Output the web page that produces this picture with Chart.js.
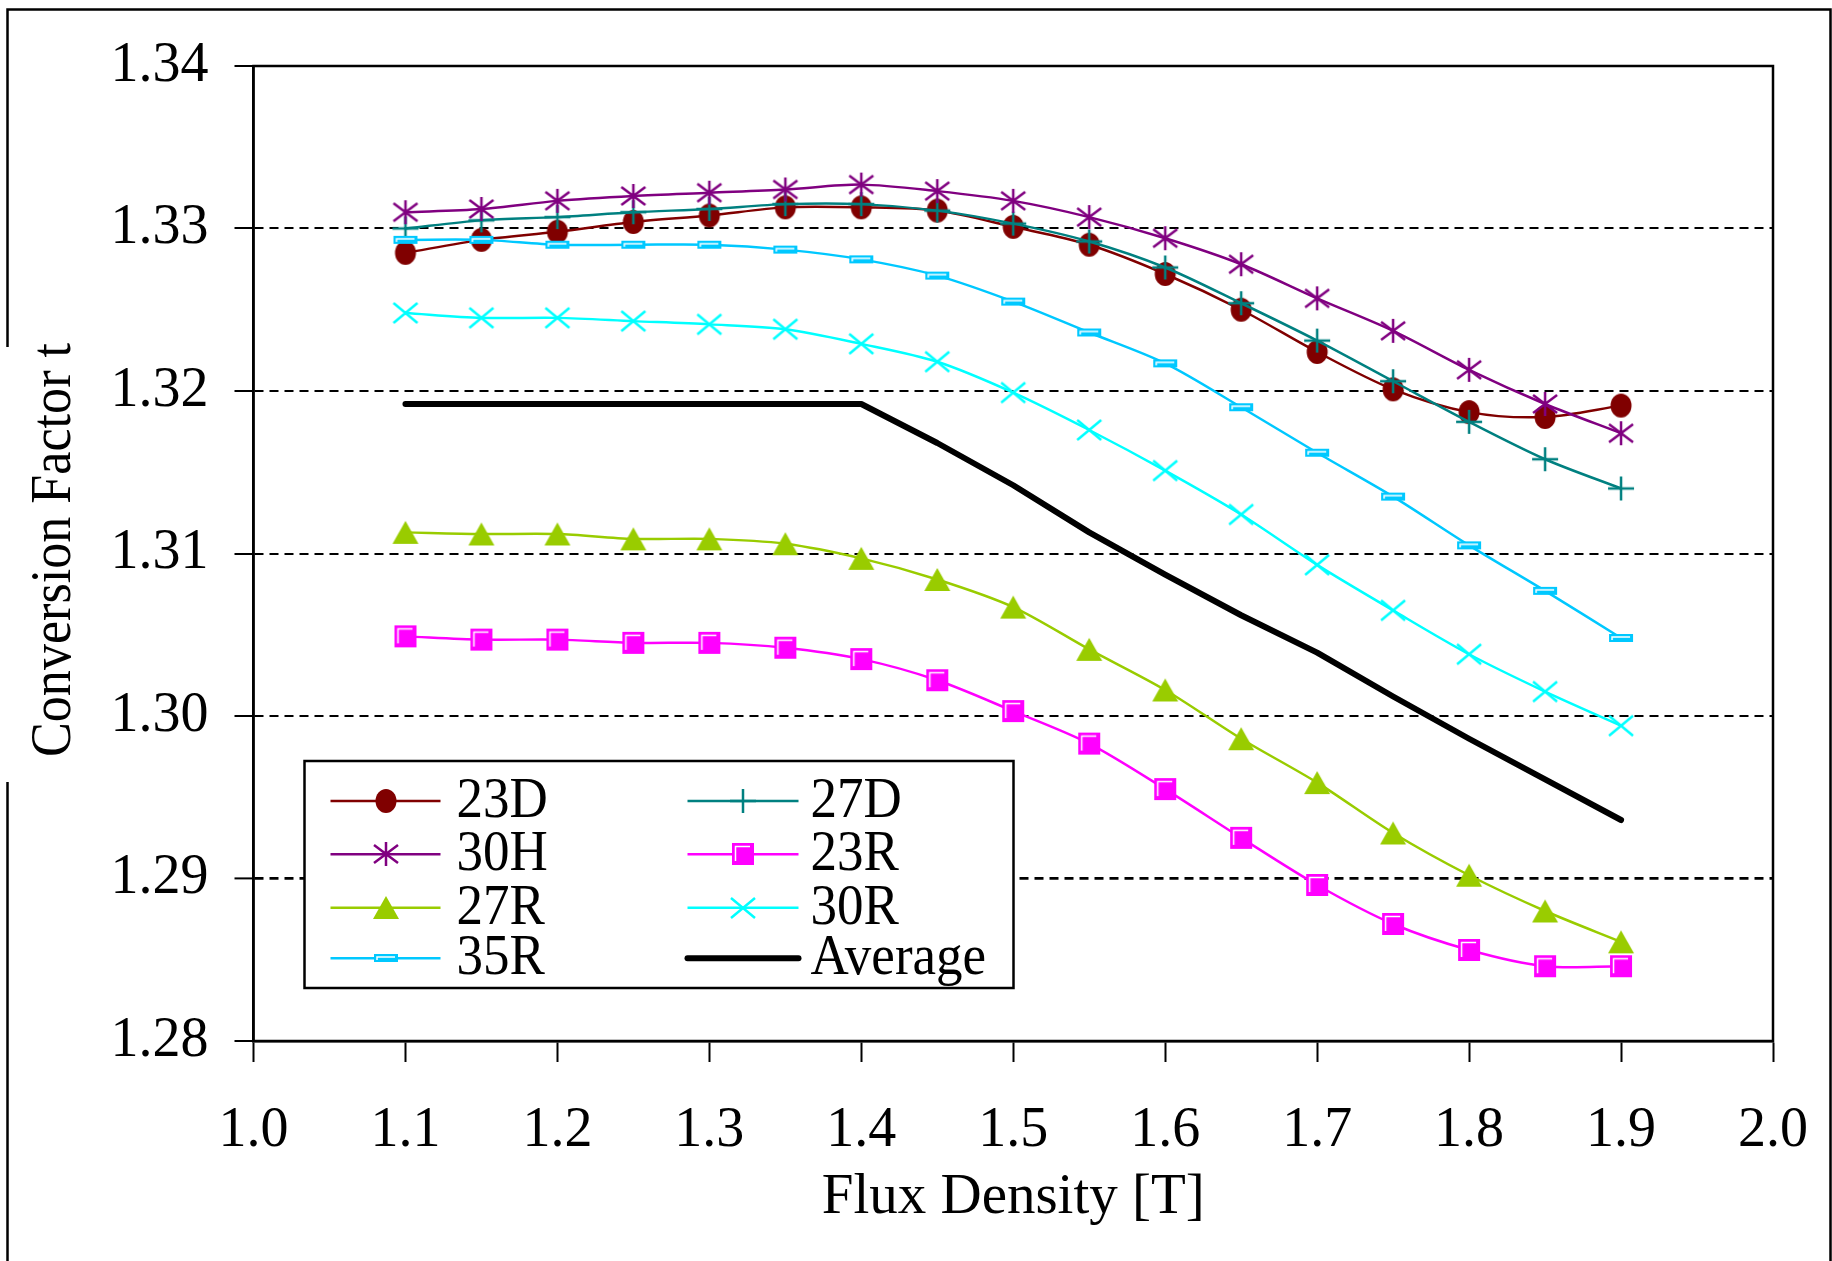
<!DOCTYPE html>
<html>
<head>
<meta charset="utf-8">
<title>Conversion Factor vs Flux Density</title>
<script src="https://cdn.jsdelivr.net/npm/chart.js@4.4.0/dist/chart.umd.min.js"></script>
<style>
  html, body { margin: 0; padding: 0; background: #fff; }
  canvas { display: block; }
</style>
</head>
<body>
<canvas id="myChart" width="1832" height="1261"></canvas>
<script>
// x positions (flux density, T)
const fluxDensity = [1.10, 1.15, 1.20, 1.25, 1.30, 1.35, 1.40, 1.45, 1.50,
                     1.55, 1.60, 1.65, 1.70, 1.75, 1.80, 1.85, 1.90];

// conversion factor per grade
const s23D = [1.3285, 1.3293, 1.3298, 1.3304, 1.3308, 1.3313, 1.3313, 1.3311, 1.3301,
              1.3290, 1.3272, 1.3250, 1.3224, 1.3201, 1.3187, 1.3184, 1.3191];
const s27D = [1.3300, 1.3305, 1.3307, 1.3310, 1.3312, 1.3315, 1.3315, 1.3311, 1.3303,
              1.3292, 1.3276, 1.3254, 1.3231, 1.3206, 1.3181, 1.3158, 1.3140];
const s30H = [1.3310, 1.3312, 1.3317, 1.3320, 1.3322, 1.3324, 1.3327, 1.3323, 1.3317,
              1.3307, 1.3294, 1.3278, 1.3257, 1.3237, 1.3213, 1.3192, 1.3174];
const s23R = [1.3049, 1.3047, 1.3047, 1.3045, 1.3045, 1.3042, 1.3035, 1.3022, 1.3003,
              1.2983, 1.2955, 1.2925, 1.2896, 1.2872, 1.2856, 1.2846, 1.2846];
const s27R = [1.3113, 1.3112, 1.3112, 1.3109, 1.3109, 1.3106, 1.3097, 1.3084, 1.3067,
              1.3041, 1.3016, 1.2986, 1.2959, 1.2928, 1.2902, 1.2880, 1.2861];
const s30R = [1.3248, 1.3245, 1.3245, 1.3243, 1.3241, 1.3238, 1.3229, 1.3218, 1.3199,
              1.3176, 1.3151, 1.3124, 1.3093, 1.3065, 1.3038, 1.3015, 1.2994];
const s35R = [1.3293, 1.3293, 1.3290, 1.3290, 1.3290, 1.3287, 1.3281, 1.3271, 1.3255,
              1.3236, 1.3217, 1.3190, 1.3162, 1.3135, 1.3105, 1.3077, 1.3048];
const sAverage = [1.3192, 1.3192, 1.3192, 1.3192, 1.3192, 1.3192, 1.3192, 1.3168, 1.3142,
                  1.3113, 1.3087, 1.3062, 1.3039, 1.3012, 1.2986, 1.2961, 1.2936];

const seriesNames = ['23D', '27D', '30H', '23R', '27R', '30R', '35R', 'Average'];
const seriesValues = [s23D, s27D, s30H, s23R, s27R, s30R, s35R, sAverage];

const xTickValues = [1.0, 1.1, 1.2, 1.3, 1.4, 1.5, 1.6, 1.7, 1.8, 1.9, 2.0];
const yTickValues = [1.28, 1.29, 1.30, 1.31, 1.32, 1.33, 1.34];

const FONT = '"Liberation Serif", "Times New Roman", serif';

const colors = {
  '23D': '#800000', '27D': '#008080', '30H': '#800080', '23R': '#ff00ff',
  '27R': '#99cc00', '30R': '#00ffff', '35R': '#00c8ff', 'Average': '#000000'
};

// small canvases used as point styles (and in the legend)
function marker(w, h, paint) {
  const c = document.createElement('canvas');
  c.width = w; c.height = h;
  const g = c.getContext('2d');
  paint(g, w, h);
  return c;
}

const markers = {
  '23D': marker(24, 26, g => {
    g.fillStyle = colors['23D'];
    g.beginPath(); g.ellipse(12, 13, 10.5, 12, 0, 0, Math.PI * 2); g.fill();
  }),
  '27D': marker(28, 26, g => {
    g.strokeStyle = colors['27D']; g.lineWidth = 2.5;
    g.beginPath(); g.moveTo(1, 13); g.lineTo(27, 13); g.moveTo(14, 1); g.lineTo(14, 25); g.stroke();
  }),
  '30H': marker(28, 26, g => {
    g.strokeStyle = colors['30H']; g.lineWidth = 2.5;
    g.beginPath();
    g.moveTo(14, 1); g.lineTo(14, 25);
    g.moveTo(2, 4); g.lineTo(26, 22);
    g.moveTo(26, 4); g.lineTo(2, 22);
    g.stroke();
  }),
  '23R': marker(24, 24, g => {
    g.fillStyle = colors['23R']; g.fillRect(1, 1, 22, 22);
    g.strokeStyle = '#fff'; g.lineWidth = 1.5;
    g.beginPath(); g.moveTo(4.5, 19); g.lineTo(4.5, 4.5); g.lineTo(19, 4.5); g.stroke();
  }),
  '27R': marker(28, 25, g => {
    g.fillStyle = colors['27R'];
    g.beginPath(); g.moveTo(14, 1); g.lineTo(27, 24); g.lineTo(1, 24); g.closePath(); g.fill();
  }),
  '30R': marker(28, 24, g => {
    g.strokeStyle = colors['30R']; g.lineWidth = 2.5;
    g.beginPath(); g.moveTo(2, 2); g.lineTo(26, 22); g.moveTo(26, 2); g.lineTo(2, 22); g.stroke();
  }),
  '35R': marker(26, 10, g => {
    g.fillStyle = colors['35R']; g.fillRect(1, 1, 24, 8);
    g.strokeStyle = '#fff'; g.lineWidth = 1.5;
    g.beginPath(); g.moveTo(4, 7); g.lineTo(4, 4); g.lineTo(22, 4); g.stroke();
  })
};

// text drawn a little narrower than the regular face
function narrowText(ctx, text, x, y, sx) {
  ctx.save();
  ctx.translate(x, y);
  ctx.scale(sx, 1);
  ctx.fillText(text, 0, 0);
  ctx.restore();
}

// frame, rotated y title and the boxed two-column legend
const decorations = {
  id: 'decorations',
  beforeDraw(chart) {
    const ctx = chart.ctx;
    ctx.save();
    ctx.fillStyle = '#fff';
    ctx.fillRect(0, 0, chart.width, chart.height);

    ctx.strokeStyle = '#000';
    ctx.lineWidth = 2.5;
    ctx.beginPath();
    ctx.moveTo(7.5, chart.height); ctx.lineTo(7.5, 9.5);
    ctx.lineTo(chart.width - 1.5, 9.5); ctx.lineTo(chart.width - 1.5, chart.height);
    ctx.stroke();

    // white box behind the y title
    ctx.fillStyle = '#fff';
    ctx.fillRect(0, 347, 24, 435);

    ctx.fillStyle = '#000';
    ctx.font = '56px ' + FONT;
    ctx.textBaseline = 'alphabetic';
    ctx.textAlign = 'left';
    const title = 'Conversion Factor t';
    const sx = 414 / ctx.measureText(title).width;
    ctx.translate(70, 757);
    ctx.rotate(-Math.PI / 2);
    ctx.scale(sx, 1);
    ctx.fillText(title, 0, 0);
    ctx.restore();
  },
  beforeDatasetsDraw(chart) {
    const {ctx, chartArea: a} = chart;
    ctx.save();
    ctx.strokeStyle = '#000';
    ctx.lineWidth = 2.5;
    ctx.strokeRect(a.left, a.top, a.right - a.left, a.bottom - a.top);
    ctx.restore();
  },
  afterDatasetsDraw(chart) {
    const {ctx, chartArea: a} = chart;
    const box = { x: a.left + 51, y: a.bottom - 280, w: 709, h: 227 };
    ctx.save();
    ctx.fillStyle = '#fff';
    ctx.fillRect(box.x, box.y, box.w, box.h);
    ctx.strokeStyle = '#000';
    ctx.lineWidth = 2.5;
    ctx.strokeRect(box.x, box.y, box.w, box.h);

    const rowY = [40, 93.3, 146.7, 197.3];
    const cols = [{ l1: 26, l2: 136, t: 152 }, { l1: 383, l2: 494, t: 506 }];
    ctx.font = '57px ' + FONT;
    ctx.textBaseline = 'middle';
    ctx.textAlign = 'left';
    chart.data.datasets.forEach((ds, i) => {
      const col = cols[i % 2];
      const y = box.y + rowY[Math.floor(i / 2)];
      const x1 = box.x + col.l1, x2 = box.x + col.l2;
      ctx.strokeStyle = ds.borderColor;
      ctx.lineWidth = ds.borderWidth;
      ctx.lineCap = ds.label === 'Average' ? 'round' : 'butt';
      ctx.beginPath(); ctx.moveTo(x1, y); ctx.lineTo(x2, y); ctx.stroke();
      const m = markers[ds.label];
      if (m) ctx.drawImage(m, Math.round((x1 + x2) / 2 - m.width / 2), Math.round(y - m.height / 2));
      ctx.fillStyle = '#000';
      narrowText(ctx, ds.label, box.x + col.t, y + 1, 0.93);
    });
    ctx.restore();
  }
};

const ctx = document.getElementById('myChart').getContext('2d');
const myChart = new Chart(ctx, {
  type: 'line',
  data: {
    datasets: seriesNames.map((name, i) => ({
      label: name,
      data: fluxDensity.map((x, j) => ({ x: x, y: seriesValues[i][j] })),
      borderColor: colors[name],
      backgroundColor: colors[name],
      borderWidth: name === 'Average' ? 6 : 2.5,
      borderCapStyle: 'round',
      borderJoinStyle: 'round',
      pointStyle: markers[name] || 'circle',
      pointRadius: name === 'Average' ? 0 : 10,
      tension: name === 'Average' ? 0 : 0.3,
      fill: false,
      order: seriesNames.length - i
    }))
  },
  options: {
    responsive: false,
    animation: false,
    devicePixelRatio: 1,
    layout: { padding: { top: 66, right: 59, bottom: 0, left: 0 } },
    plugins: {
      legend: { display: false },
      tooltip: { enabled: false }
    },
    scales: {
      x: {
        type: 'linear',
        min: 1.0,
        max: 2.0,
        afterFit: scale => {
          scale.height = 220;
          scale.paddingLeft = 0;
          scale.paddingRight = 0;
        },
        afterBuildTicks: scale => { scale.ticks = xTickValues.map(v => ({ value: v })); },
        grid: { drawOnChartArea: false, drawTicks: true, tickLength: 21, tickColor: '#000', tickWidth: 2 },
        border: { color: '#000', width: 2.5 },
        ticks: {
          autoSkip: false, maxRotation: 0, padding: 36, color: '#000',
          font: { family: FONT, size: 56 },
          callback: v => v.toFixed(1)
        },
        title: {
          display: true, text: 'Flux Density [T]', color: '#000',
          font: { family: FONT, size: 57 },
          padding: { top: 0, bottom: 29 }
        }
      },
      y: {
        type: 'linear',
        min: 1.28,
        max: 1.34,
        afterFit: scale => {
          scale.width = 253.5;
          scale.paddingTop = 0;
          scale.paddingBottom = 0;
        },
        afterBuildTicks: scale => { scale.ticks = yTickValues.map(v => ({ value: v })); },
        grid: {
          color: c => (c.index === 0 || c.index === yTickValues.length - 1) ? 'rgba(0,0,0,0)' : '#000',
          lineWidth: c => c.index === 1 ? 2.8 : 2,
          tickLength: 19, tickColor: '#000', tickWidth: 2, tickBorderDash: []
        },
        border: { color: '#000', width: 2.5, dash: [9, 6] },
        ticks: {
          padding: 26, color: '#000',
          font: { family: FONT, size: 56 },
          callback: v => v.toFixed(2)
        }
      }
    }
  },
  plugins: [decorations]
});
</script>
</body>
</html>
